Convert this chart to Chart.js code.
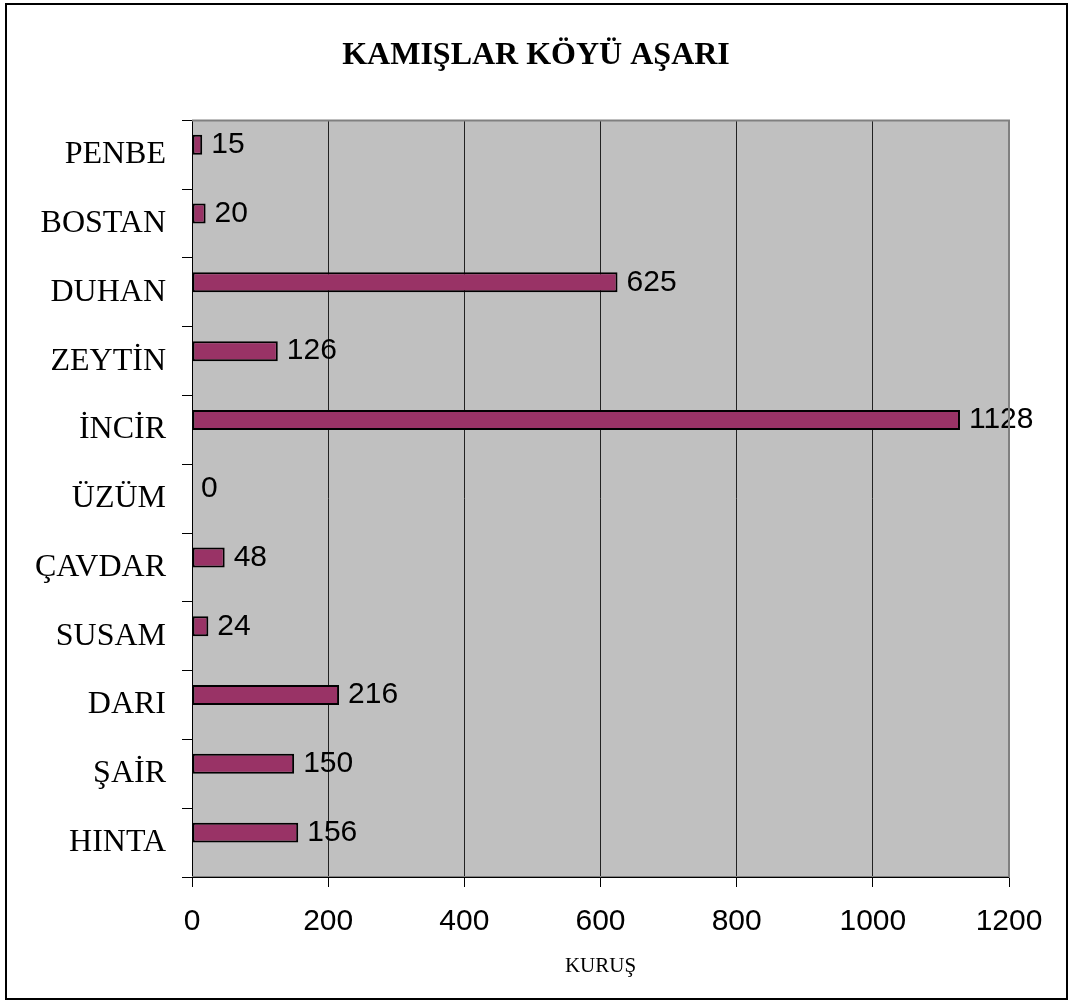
<!DOCTYPE html>
<html>
<head>
<meta charset="utf-8">
<title>Kamışlar Köyü Aşarı</title>
<script src="https://cdn.jsdelivr.net/npm/chart.js@4.4.1/dist/chart.umd.min.js"></script>
<style>
  body { margin: 0; background: #fff; }
  #wrap { position: relative; width: 1072px; height: 1004px; }
</style>
</head>
<body>
<div id="wrap"><canvas id="mycanvas" width="1072" height="1004"></canvas></div>
<script>
// crops and tax amounts (kuruş)
var crops = ['PENBE', 'BOSTAN', 'DUHAN', 'ZEYTİN', 'İNCİR', 'ÜZÜM', 'ÇAVDAR', 'SUSAM', 'DARI', 'ŞAİR', 'HINTA'];
var kurus = [15, 20, 625, 126, 1128, 0, 48, 24, 216, 150, 156];
// second (empty) series, keeps the bars in the upper half of each row
var emptySeries = [null, null, null, null, null, null, null, null, null, null, null];
var xTicks = [0, 200, 400, 600, 800, 1000, 1200];

var SERIF = '"Liberation Serif", "Times New Roman", serif';
var SANS = '"Liberation Sans", Arial, sans-serif';

// gray plot area + outer frame
var plotBg = {
  id: 'plotBg',
  beforeDraw: function(chart) {
    var c = chart.ctx, a = chart.chartArea;
    c.save();
    c.fillStyle = '#fff';
    c.fillRect(0, 0, chart.width, chart.height);
    c.fillStyle = '#c0c0c0';
    c.fillRect(a.left, a.top, a.right - a.left, a.bottom - a.top);
    c.strokeStyle = '#000';
    c.lineWidth = 2;
    c.strokeRect(6, 4, 1061, 995);
    c.restore();
  },
  afterDraw: function(chart) {
    var c = chart.ctx, a = chart.chartArea;
    c.save();
    c.strokeStyle = '#808080';
    c.lineWidth = 2;
    c.beginPath();
    c.moveTo(a.left, a.top);
    c.lineTo(a.right, a.top);
    c.lineTo(a.right, a.bottom);
    c.lineTo(a.left, a.bottom);
    c.stroke();
    c.strokeStyle = '#000';
    c.lineWidth = 1;
    c.beginPath();
    c.moveTo(a.left, a.bottom + 0.5);
    c.lineTo(a.right, a.bottom + 0.5);
    c.stroke();
    c.restore();
  }
};

// value next to each bar
var valueLabels = {
  id: 'valueLabels',
  afterDatasetsDraw: function(chart) {
    var c = chart.ctx;
    var meta = chart.getDatasetMeta(0);
    c.save();
    c.font = '30px ' + SANS;
    c.fillStyle = '#000';
    c.textAlign = 'left';
    c.textBaseline = 'middle';
    meta.data.forEach(function(bar, i) {
      c.fillText(String(kurus[i]), bar.x + 9, bar.y);
    });
    c.restore();
  }
};

var ctx = document.getElementById('mycanvas');

var barGraph = new Chart(ctx, {
  type: 'bar',
  data: {
    labels: crops,
    datasets: [
      {
        label: 'Aşar',
        data: kurus,
        backgroundColor: '#993366',
        borderColor: '#000',
        borderWidth: 2,
        borderSkipped: false,
        categoryPercentage: 0.581,
        barPercentage: 1
      },
      {
        label: '',
        data: emptySeries,
        backgroundColor: '#993366',
        categoryPercentage: 0.581,
        barPercentage: 1
      }
    ]
  },
  plugins: [plotBg, valueLabels],
  options: {
    indexAxis: 'y',
    responsive: false,
    animation: false,
    devicePixelRatio: 1,
    layout: { padding: 0 },
    plugins: {
      legend: { display: false },
      tooltip: { enabled: false },
      title: {
        display: true,
        text: 'KAMIŞLAR KÖYÜ AŞARI',
        color: '#000',
        font: { family: SERIF, size: 32, weight: 'bold' },
        padding: { top: 37, bottom: 45 }
      }
    },
    scales: {
      x: {
        min: 0,
        max: 1200,
        afterBuildTicks: function(scale) {
          scale.ticks = xTicks.map(function(v) { return { value: v }; });
        },
        afterFit: function(scale) {
          scale.height = 127;
          scale.paddingRight = 63; // room on the right of the plot
        },
        grid: {
          color: '#222',
          lineWidth: 1,
          drawTicks: true,
          tickLength: 10,
          tickColor: '#000'
        },
        border: { display: true, color: '#000', width: 1 },
        ticks: {
          color: '#000',
          font: { family: SANS, size: 30 },
          padding: 17,
          maxRotation: 0,
          callback: function(value) { return String(value); }
        },
        title: {
          display: true,
          text: 'KURUŞ',
          color: '#000',
          font: { family: SERIF, size: 21 },
          padding: { top: 0, bottom: 25 }
        }
      },
      y: {
        afterFit: function(scale) { scale.width = 192; },
        grid: {
          display: true,
          drawOnChartArea: false,
          drawTicks: true,
          tickLength: 10,
          offset: true,
          color: '#000'
        },
        border: { display: true, color: '#000', width: 1 },
        ticks: {
          color: '#000',
          autoSkip: false,
          font: { family: SERIF, size: 32 },
          padding: 16
        }
      }
    }
  }
});
</script>
</body>
</html>
